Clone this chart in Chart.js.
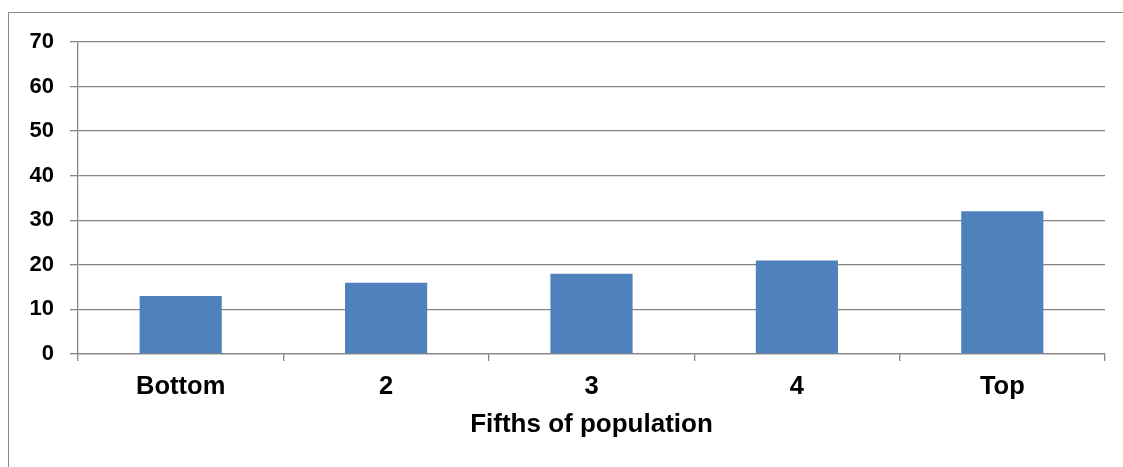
<!DOCTYPE html>
<html>
<head>
<meta charset="utf-8">
<script src="https://cdn.jsdelivr.net/npm/chart.js@4"></script>
<style>
  html, body { margin: 0; padding: 0; background: #fff; }
  #wrap { position: relative; width: 1123px; height: 467px; overflow: hidden; }
  #frame { position: absolute; left: 8px; top: 12px; width: 1200px; height: 600px; border: 1px solid #8a8a8a; box-sizing: border-box; }
  #c { position: absolute; left: 0; top: 0; }
</style>
</head>
<body>
<div id="wrap">
  <div id="frame"></div>
  <canvas id="c" width="1123" height="467"></canvas>
</div>
<script>
// Share of total, by fifth of the population
const categories = ["Bottom", "2", "3", "4", "Top"];
const shares = [13, 16, 18, 21, 32];
const axisTitle = "Fifths of population";

const FONT = "'Liberation Sans', Arial, sans-serif";
const GRID = "#858585";

new Chart(document.getElementById("c"), {
  type: "bar",
  data: {
    labels: categories,
    datasets: [{
      data: shares,
      backgroundColor: "#4F81BD",
      borderWidth: 0,
      barPercentage: 0.4,
      categoryPercentage: 1.0
    }]
  },
  options: {
    responsive: false,
    animation: false,
    layout: { padding: { left: 0, top: 42, right: 18, bottom: 27 } },
    plugins: { legend: { display: false }, tooltip: { enabled: false } },
    scales: {
      y: {
        min: 0,
        max: 70,
        ticks: {
          stepSize: 10,
          color: "#000",
          padding: 16,
          font: { family: FONT, size: 22, weight: "bold" }
        },
        grid: { color: GRID, lineWidth: 1.3, tickLength: 8, drawTicks: true },
        border: { color: GRID, width: 1.3 },
        afterFit: s => { s.width = 78; }
      },
      x: {
        offset: true,
        ticks: {
          color: "#000",
          padding: 11,
          font: { family: FONT, size: 25.5, weight: "bold" }
        },
        grid: { offset: true, drawOnChartArea: false, color: GRID, lineWidth: 1.3, tickLength: 7 },
        border: { color: GRID, width: 1.3 },
        title: {
          display: true,
          text: axisTitle,
          color: "#000",
          padding: { top: 0, bottom: 0 },
          font: { family: FONT, size: 26, weight: "bold" }
        },
        afterFit: s => { s.height = 86; }
      }
    }
  }
});
</script>
</body>
</html>
